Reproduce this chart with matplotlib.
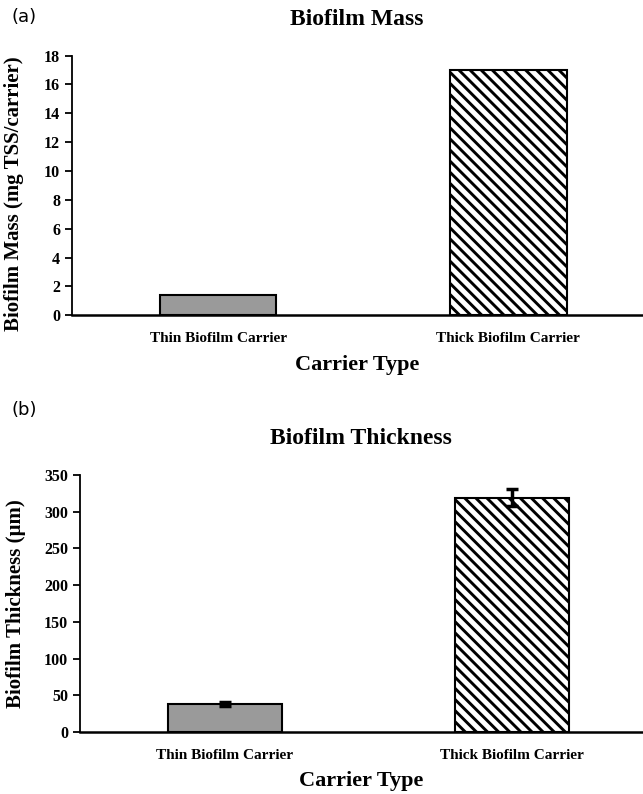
import numpy as np
import matplotlib
matplotlib.use('Agg')
import matplotlib.pyplot as plt

# Daten
carriers = ['Thin Biofilm Carrier', 'Thick Biofilm Carrier']
mass = [1.4, 17.0]
thickness = [38, 319]
thickness_err = [3, 12]

plt.rcParams['font.family'] = 'Liberation Serif'
plt.rcParams['font.weight'] = 'bold'
plt.rcParams['hatch.linewidth'] = 2.1

fig = plt.figure(figsize=(6.43, 7.94), dpi=100)
ax1 = fig.add_axes([0.112, 0.603, 0.886, 0.327])
ax2 = fig.add_axes([0.124, 0.078, 0.874, 0.324])

x = np.arange(len(carriers))
colors = ['#9a9a9a', 'white']
hatches = ['', '\\\\\\']


def style(ax, xlim, ylim, yticks, ylabel, title):
    ax.set_xlim(*xlim)
    ax.set_ylim(*ylim)
    ax.set_yticks(yticks)
    ax.set_xticks(x)
    ax.set_xticklabels(carriers, fontsize=11, fontweight='bold')
    ax.tick_params(axis='x', length=0, pad=12)
    ax.tick_params(axis='y', length=5, width=1.3, labelsize=11.5, direction='out')
    for lbl in ax.get_yticklabels():
        lbl.set_fontweight('bold')
    ax.spines['top'].set_visible(False)
    ax.spines['right'].set_visible(False)
    ax.spines['left'].set_linewidth(1.3)
    ax.spines['bottom'].set_linewidth(1.8)
    ax.set_ylabel(ylabel, fontsize=15, fontweight='bold')
    ax.set_xlabel('Carrier Type', fontsize=16, fontweight='bold', labelpad=7)
    ax.set_title(title, fontsize=17, fontweight='bold', pad=22)


# (a) Biofilmmasse
for i in range(2):
    ax1.bar(x[i], mass[i], width=0.40, color=colors[i], edgecolor='black',
            linewidth=1.5, hatch=hatches[i])
style(ax1, (-0.503, 1.459), (0, 18), np.arange(0, 19, 2),
      'Biofilm Mass (mg TSS/carrier)', 'Biofilm Mass')
ax1.yaxis.set_label_coords(-0.085, 0.47)

# (b) Biofilmdicke
for i in range(2):
    ax2.bar(x[i], thickness[i], width=0.40, color=colors[i], edgecolor='black',
            linewidth=1.5, hatch=hatches[i])
ax2.errorbar(x, thickness, yerr=thickness_err, fmt='none', ecolor='black',
             elinewidth=2.5, capsize=4, capthick=2.5)
style(ax2, (-0.506, 1.452), (0, 350), np.arange(0, 351, 50),
      'Biofilm Thickness (\u00b5m)', 'Biofilm Thickness')
ax2.yaxis.set_label_coords(-0.095, 0.5)

fig.text(0.018, 0.979, '(a)', fontsize=13, family='DejaVu Sans', fontweight='normal', va='center')
fig.text(0.018, 0.484, '(b)', fontsize=13, family='DejaVu Sans', fontweight='normal', va='center')

plt.savefig('out.png', dpi=100)
